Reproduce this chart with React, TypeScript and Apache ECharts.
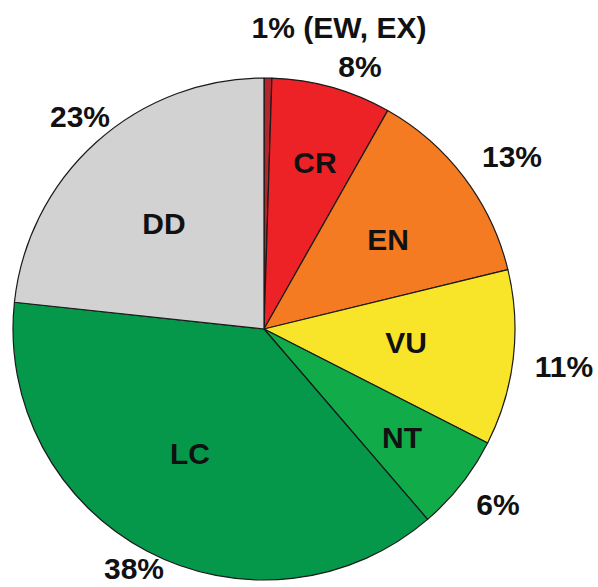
import React, { useEffect, useRef } from "react";
import * as echarts from "echarts";

const categories = ["EW/EX", "CR", "EN", "VU", "NT", "LC", "DD"];
const shares = [0.5, 7.7, 13.0, 11.3, 6.2, 38.0, 23.3];
const colors = ["#b3262c", "#ec2227", "#f47b22", "#f8e52a", "#11ab4a", "#05984b", "#d2d2d2"];

// Inner category labels and outer percentage labels
const innerLabels = ["", "CR", "EN", "VU", "NT", "LC", "DD"];
const percentLabels = ["1% (EW, EX)", "8%", "13%", "11%", "6%", "38%", "23%"];

// label anchor positions (layout, px)
const innerPos: [number, number][] = [
  [0, 0], [315, 162], [388, 239], [406, 342], [402, 437], [190, 453], [164, 223],
];
const outerPos: [number, number][] = [
  [339, 27], [360, 66], [512, 156], [564, 366], [498, 504], [134, 568], [80, 116],
];

export default function App() {
  const ref = useRef<HTMLDivElement>(null);
  useEffect(() => {
    document.body.style.margin = "0";
    const chart = echarts.init(ref.current!, null, { renderer: "svg" });
    const font = "'Liberation Sans', Arial, Helvetica, sans-serif";
    const texts: any[] = [];
    innerLabels.forEach((t, i) => {
      if (!t) return;
      texts.push({
        type: "text", x: innerPos[i][0], y: innerPos[i][1], z: 100,
        style: { text: t, fontSize: 30, fontWeight: "bold", fontFamily: font, fill: "#111", align: "center", verticalAlign: "middle" },
      });
    });
    percentLabels.forEach((t, i) => {
      texts.push({
        type: "text", x: outerPos[i][0], y: outerPos[i][1], z: 100,
        style: { text: t, fontSize: 30, fontWeight: "bold", fontFamily: font, fill: "#111", align: "center", verticalAlign: "middle" },
      });
    });
    chart.setOption({
      animation: false,
      backgroundColor: "#ffffff",
      series: [
        {
          type: "pie",
          center: [264, 329],
          radius: 251,
          startAngle: 90,
          clockwise: true,
          label: { show: false },
          labelLine: { show: false },
          emphasis: { disabled: true },
          itemStyle: { borderColor: "#1a1a1a", borderWidth: 1.2 },
          data: categories.map((c, i) => ({ name: c, value: shares[i], itemStyle: { color: colors[i] } })),
        },
      ],
      graphic: texts,
    });
    return () => chart.dispose();
  }, []);
  return <div ref={ref} style={{ position: "absolute", left: 0, top: 0, width: 598, height: 587 }} />;
}
